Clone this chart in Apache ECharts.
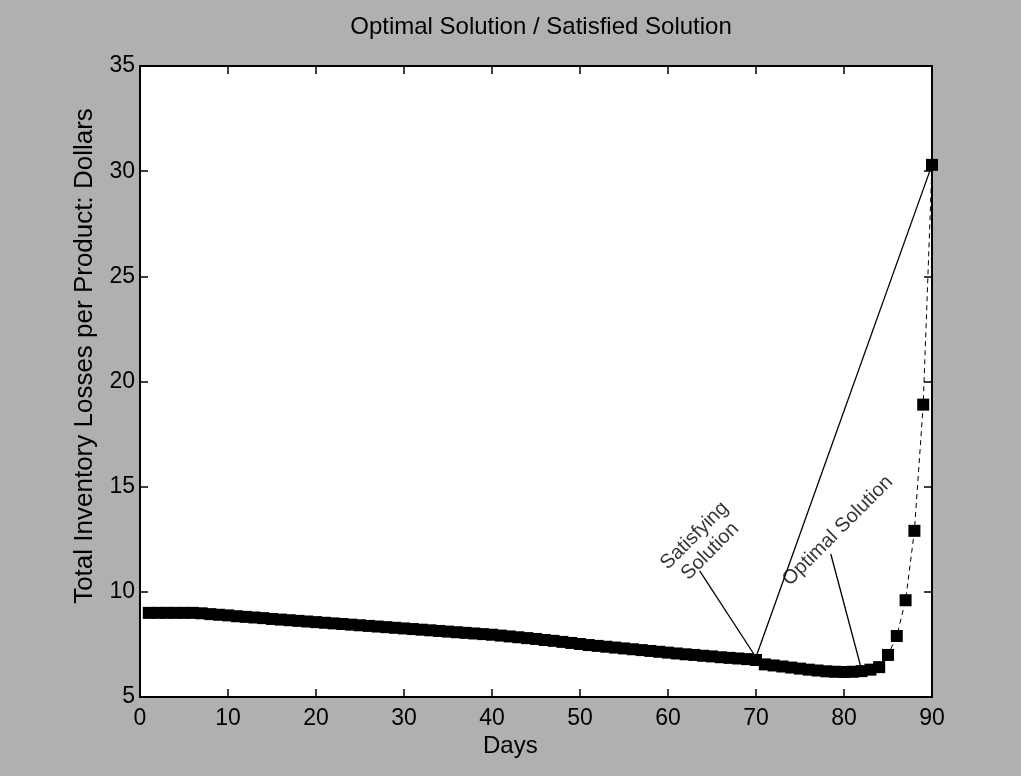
<!DOCTYPE html>
<html>
<head>
<meta charset="utf-8">
<script src="https://cdn.jsdelivr.net/npm/echarts@6/dist/echarts.min.js"></script>
<style>html,body{margin:0;padding:0;background:#b0b0b0;}#chart{width:1021px;height:776px;}</style>
</head>
<body>
<div id="chart"></div>
<script>
// ---- data ----
const titleText = 'Optimal Solution / Satisfied Solution';
const xTitle = 'Days';
const yTitle = 'Total Inventory Losses per Product: Dollars';
const days = [1,2,3,4,5,6,7,8,9,10,11,12,13,14,15,16,17,18,19,20,21,22,23,24,25,26,27,28,29,30,
  31,32,33,34,35,36,37,38,39,40,41,42,43,44,45,46,47,48,49,50,51,52,53,54,55,56,57,58,59,60,
  61,62,63,64,65,66,67,68,69,70,71,72,73,74,75,76,77,78,79,80,81,82,83,84,85,86,87,88,89,90];
const losses = [9.00,9.00,9.00,9.00,9.00,9.00,8.98,8.94,8.91,8.88,
  8.84,8.81,8.78,8.75,8.71,8.68,8.65,8.62,8.59,8.56,
  8.53,8.50,8.47,8.44,8.41,8.38,8.35,8.32,8.29,8.26,
  8.23,8.20,8.17,8.14,8.11,8.08,8.05,8.02,7.99,7.96,
  7.92,7.88,7.84,7.80,7.76,7.71,7.67,7.62,7.57,7.52,
  7.47,7.43,7.39,7.35,7.31,7.27,7.23,7.19,7.15,7.11,
  7.07,7.03,7.00,6.96,6.93,6.89,6.86,6.83,6.80,6.76,
  6.55,6.50,6.45,6.40,6.35,6.30,6.26,6.22,6.20,6.19,
  6.20,6.23,6.30,6.42,7.00,7.90,9.60,12.90,18.90,30.30];
const xTicks = [0,10,20,30,40,50,60,70,80,90];
const yTicks = [5,10,15,20,25,30,35];
// annotations (data coordinates)
const satLabel = {text: 'Satisfying\nSolution', at: [63.9, 12.3]};
const optLabel = {text: 'Optimal Solution', at: [79.3, 12.9]};
const satPointer = [[63.6, 11.0], [69.9, 6.95]];
const optPointer = [[78.5, 11.8], [81.9, 6.45]];
const linkLine = [[70, 6.9], [90, 30.3]];

const FONT = "'Liberation Sans', Arial, sans-serif";
const chart = echarts.init(document.getElementById('chart'), null, {renderer: 'canvas'});
const pts = days.map((d, i) => [d, losses[i]]);

const xBase = {type: 'value', min: xTicks[0], max: xTicks[xTicks.length-1], interval: 10,
  axisLine: {show: true, onZero: false, lineStyle: {color: '#000', width: 2}},
  axisTick: {show: true, inside: true, length: 8, lineStyle: {color: '#000', width: 1.5}},
  splitLine: {show: false}};
const yBase = {type: 'value', min: yTicks[0], max: yTicks[yTicks.length-1], interval: 5,
  axisLine: {show: true, onZero: false, lineStyle: {color: '#000', width: 2}},
  axisTick: {show: true, inside: true, length: 8, lineStyle: {color: '#000', width: 1.5}},
  splitLine: {show: false}};

const option = {
  backgroundColor: '#b0b0b0',
  animation: false,
  textStyle: {fontFamily: FONT, color: '#000'},
  title: {text: titleText, left: 536, top: 10, textAlign: 'center',
    textStyle: {fontFamily: FONT, fontSize: 24, fontWeight: 'normal', color: '#000'}},
  grid: {left: 140, right: 89, top: 66, bottom: 79, show: true, backgroundColor: '#fff',
    borderColor: '#000', borderWidth: 2},
  xAxis: [
    Object.assign({}, xBase, {position: 'bottom',
      axisLabel: {show: true, color: '#000', fontSize: 23, fontFamily: FONT, margin: 10}}),
    Object.assign({}, xBase, {position: 'top', axisLabel: {show: false}})
  ],
  yAxis: [
    Object.assign({}, yBase, {position: 'left',
      axisLabel: {show: true, color: '#000', fontSize: 23, fontFamily: FONT, margin: 5}}),
    Object.assign({}, yBase, {position: 'right', axisLabel: {show: false}})
  ],
  graphic: [
    {type: 'text', left: 483, top: 734, style: {text: xTitle, fontSize: 24, fontFamily: FONT, fill: '#000'}},
    {type: 'text', x: 85, y: 356, rotation: Math.PI/2,
      style: {text: yTitle, fontSize: 26, fontFamily: FONT, fill: '#000', align: 'center', verticalAlign: 'middle'}}
  ],
  series: [
    {type: 'line', data: linkLine, symbol: 'none', lineStyle: {color: '#000', width: 1.3}, z: 3, silent: true},
    {type: 'line', data: satPointer, symbol: 'none', lineStyle: {color: '#000', width: 1.3}, z: 3, silent: true},
    {type: 'line', data: optPointer, symbol: 'none', lineStyle: {color: '#000', width: 1.3}, z: 3, silent: true},
    {type: 'line', name: 'Losses', data: pts, symbol: 'rect', symbolSize: 12, showSymbol: true,
      itemStyle: {color: '#000', borderColor: '#000', borderWidth: 0},
      lineStyle: {color: '#000', width: 1, type: [5, 4]}, z: 4},
    {type: 'scatter', data: [satLabel.at], symbolSize: 1, itemStyle: {color: 'rgba(0,0,0,0)'},
      label: {show: true, position: 'inside', formatter: satLabel.text, rotate: 45, fontSize: 20,
        fontFamily: FONT, color: '#000', align: 'center', verticalAlign: 'middle', lineHeight: 22}, z: 5},
    {type: 'scatter', data: [optLabel.at], symbolSize: 1, itemStyle: {color: 'rgba(0,0,0,0)'},
      label: {show: true, position: 'inside', formatter: optLabel.text, rotate: 45, fontSize: 20,
        fontFamily: FONT, color: '#000', align: 'center', verticalAlign: 'middle'}, z: 5}
  ]
};
chart.setOption(option);
</script>
</body>
</html>
